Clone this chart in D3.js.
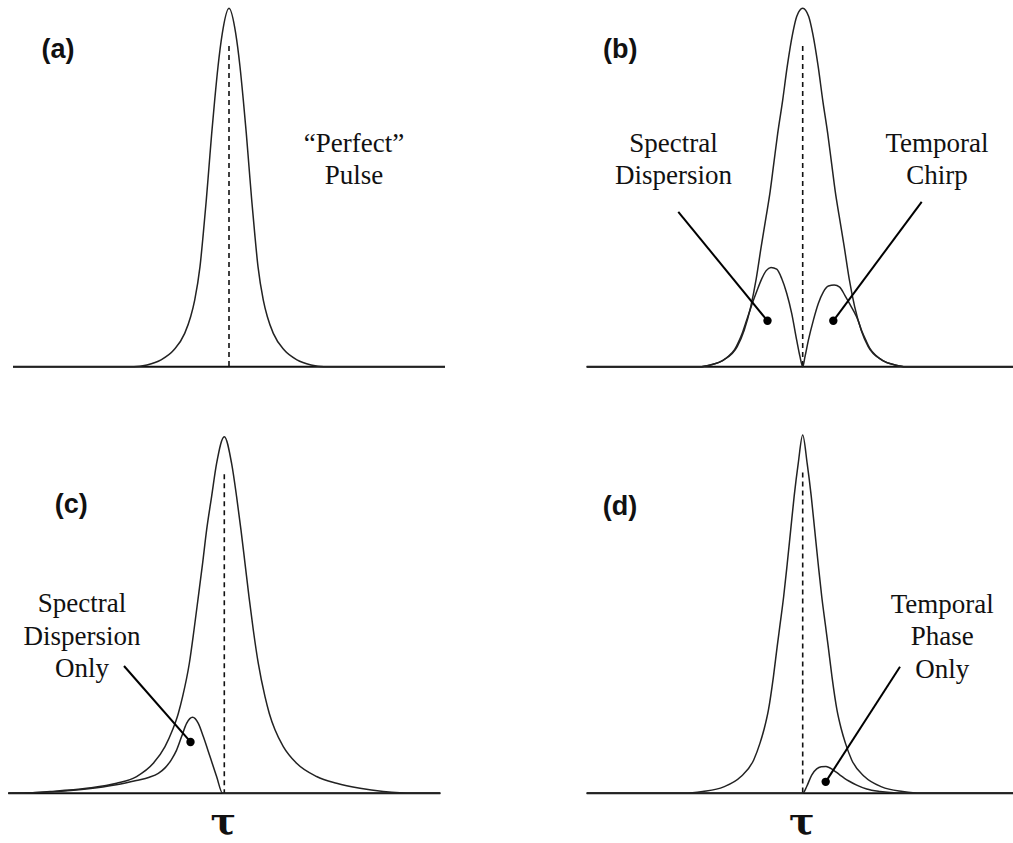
<!DOCTYPE html>
<html>
<head>
<meta charset="utf-8">
<script src="https://cdn.jsdelivr.net/npm/d3@7"></script>
<style>
  body { margin: 0; background: #fff; }
  svg { display: block; }
  .note { font-family: "Liberation Serif", "Times New Roman", serif; font-size: 27px; fill: #111; }
  .plabel { font-family: "Liberation Sans", Arial, sans-serif; font-size: 27px; font-weight: bold; fill: #111; }
  .tau { font-family: "DejaVu Serif", serif; font-size: 38px; font-weight: bold; fill: #111; }
</style>
</head>
<body>
<div id="chart"></div>
<script>
// delay offsets (arb. units) and normalised intensities

// (a) perfect pulse
const pulseA_t = [-216, -95, -82, -68, -55, -44.3, -38.3, -34.3, -29, -25.7, -22.7, -20, -17.3, -14.3, -11, -6.7, 0,
                  6.7, 11, 14.3, 17.3, 20, 22.7, 25.7, 29, 34.3, 38.3, 44.3, 55, 68, 82, 95, 216];
const pulseA_I = [0, 0, 0.005, 0.019, 0.047, 0.093, 0.14, 0.186, 0.279, 0.372, 0.465, 0.558, 0.651, 0.744, 0.837, 0.93, 1,
                  0.93, 0.837, 0.744, 0.651, 0.558, 0.465, 0.372, 0.279, 0.186, 0.14, 0.093, 0.047, 0.019, 0.005, 0, 0];

// (b) spectral dispersion + temporal chirp
const pulseB_t = [-216, -103, -92.5, -79, -65.5, -58.5, -52, -46.5, -41.5, -36.5, -32.5, -29, -25, -20, -15.5, -10, -6, 0,
                  6, 10, 15.5, 20, 25, 29, 32.5, 36.5, 41.5, 46.5, 52, 58.5, 65.5, 79, 92.5, 103, 216];
const pulseB_I = [0, 0, 0.005, 0.019, 0.056, 0.102, 0.167, 0.245, 0.335, 0.42, 0.49, 0.565, 0.651, 0.744, 0.837, 0.93, 0.977, 1,
                  0.977, 0.93, 0.837, 0.744, 0.651, 0.565, 0.49, 0.42, 0.335, 0.245, 0.167, 0.102, 0.056, 0.019, 0.005, 0, 0];
const lobeB_t = [-216, -103, -92, -80, -74, -68, -64, -60, -56, -53, -50, -46, -41, -36.5, -31.7, -26, -21, -16, -11, -6, -2.7, 0,
                 2.3, 5.7, 10.7, 15.7, 20.7, 25.7, 31.5, 37, 42, 47, 51, 55, 59, 63, 67, 73, 80, 92, 103, 216];
const lobeB_I = [0, 0, 0.005, 0.017, 0.03, 0.048, 0.07, 0.097, 0.13, 0.155, 0.18, 0.21, 0.245, 0.268, 0.277, 0.272, 0.246, 0.205, 0.149, 0.074, 0.028, 0,
                 0.028, 0.074, 0.13, 0.177, 0.209, 0.225, 0.228, 0.222, 0.2, 0.175, 0.155, 0.132, 0.1, 0.075, 0.052, 0.032, 0.017, 0.005, 0, 0];

// (c) spectral dispersion only
const pulseC_t = [-216, -205, -174.3, -137.7, -107.7, -87.7, -71, -59.3, -51.7, -46, -41.7, -35, -30.3, -26, -21.7, -17.7, -12.7, -7.7, 0,
                  7.3, 12.3, 16.7, 20.7, 24.7, 29, 34, 40.7, 45, 50.7, 59, 72.3, 92.3, 112.3, 135.7, 159, 190, 216];
const pulseC_I = [0, 0, 0.005, 0.014, 0.028, 0.047, 0.084, 0.131, 0.178, 0.224, 0.271, 0.364, 0.458, 0.551, 0.645, 0.738, 0.832, 0.925, 1,
                  0.925, 0.832, 0.738, 0.645, 0.551, 0.458, 0.364, 0.271, 0.224, 0.178, 0.131, 0.084, 0.047, 0.028, 0.014, 0.005, 0, 0];
const lobeC_t = [-216, -174, -138, -108, -88, -75, -66, -59, -53, -47.7, -42.7, -37.7, -31.7, -26, -21, -14.3, -7.7, -1.7, 216];
const lobeC_I = [0, 0.004, 0.012, 0.024, 0.036, 0.045, 0.056, 0.072, 0.094, 0.121, 0.159, 0.196, 0.213, 0.196, 0.159, 0.103, 0.047, 0, 0];

// (d) temporal phase only
const pulseD_t = [-216, -118, -100, -79, -62, -49, -42.7, -38.5, -34.3, -29.3, -25.5, -22.7, -19, -15.5, -12, -8.5, -4.5, 0,
                  4.5, 8.5, 12, 15.5, 19, 22.7, 25.5, 29.3, 34.3, 38.5, 42.7, 49, 62, 79, 100, 118, 216];
const pulseD_I = [0, 0, 0.005, 0.018, 0.046, 0.093, 0.14, 0.18, 0.232, 0.325, 0.41, 0.47, 0.55, 0.64, 0.735, 0.83, 0.92, 1,
                  0.92, 0.83, 0.735, 0.64, 0.55, 0.47, 0.41, 0.325, 0.232, 0.18, 0.14, 0.093, 0.046, 0.018, 0.005, 0, 0];
const lobeD_t = [-216, 0, 4, 9, 14, 18.5, 23.3, 30.7, 37.3, 45.7, 54, 64, 77.3, 94, 110, 216];
const lobeD_I = [0, 0, 0.019, 0.051, 0.068, 0.074, 0.075, 0.065, 0.051, 0.035, 0.023, 0.012, 0.005, 0.001, 0, 0];

const panelLabels = ["(a)", "(b)", "(c)", "(d)"];

// annotation text lines and where the pointers sit, in (delay, intensity) units
const notesA = [{lines: ["\u201CPerfect\u201D", "Pulse"], t: 125, I: 0.6}];
const notesB = [{lines: ["Spectral", "Dispersion"], t: -129.2, I: 0.6},
                {lines: ["Temporal", "Chirp"], t: 134.3, I: 0.6}];
const notesC = [{lines: ["Spectral", "Dispersion", "Only"], t: -142.3, I: 0.508}];
const notesD = [{lines: ["Temporal", "Phase", "Only"], t: 139.6, I: 0.504}];

const pointersB = [{t0: -124.4, I0: 0.432, t1: -35.2, I1: 0.128},
                   {t0: 119, I0: 0.46, t1: 30.6, I1: 0.128}];
const pointersC = [{t0: -100.3, I0: 0.357, t1: -33.8, I1: 0.144}];
const pointersD = [{t0: 97.3, I0: 0.353, t1: 23, I1: 0.032}];

const tauDomain = [-216, 216];

// ---------------------------------------------------------------

const width = 1013, height = 843;
const svg = d3.select("#chart").append("svg")
    .attr("width", width)
    .attr("height", height);

function zip(ts, is) {
    return ts.map((t, i) => ({t: t, I: is[i]}));
}

const panels = [
    {label: panelLabels[0], cx: 229, base: 366.7, top: 8.3, labelAt: [-187.5, 0.86],
     curves: [zip(pulseA_t, pulseA_I)], notes: notesA, pointers: [], tau: false},
    {label: panelLabels[1], cx: 802.7, base: 366.7, top: 8.3, labelAt: [-199.6, 0.861],
     curves: [zip(pulseB_t, pulseB_I), zip(lobeB_t, lobeB_I)], notes: notesB, pointers: pointersB, tau: false},
    {label: panelLabels[2], cx: 224.3, base: 793.3, top: 436.7, labelAt: [-169.5, 0.786],
     curves: [zip(pulseC_t, pulseC_I), zip(lobeC_t, lobeC_I)], notes: notesC, pointers: pointersC, tau: true},
    {label: panelLabels[3], cx: 802.7, base: 793.3, top: 435, labelAt: [-199.9, 0.777],
     curves: [zip(pulseD_t, pulseD_I), zip(lobeD_t, lobeD_I)], notes: notesD, pointers: pointersD, tau: true}
];

const lineHeight = 32.5;

panels.forEach(p => {
    const x = d3.scaleLinear().domain(tauDomain).range([p.cx - 216, p.cx + 216]);
    const y = d3.scaleLinear().domain([0, 1]).range([p.base, p.top]);
    const g = svg.append("g");

    // baseline
    g.append("line")
        .attr("x1", x(tauDomain[0])).attr("x2", x(tauDomain[1]))
        .attr("y1", y(0)).attr("y2", y(0))
        .attr("stroke", "#111")
        .attr("stroke-width", 2);

    // dashed centre marker
    g.append("line")
        .attr("x1", x(0)).attr("x2", x(0))
        .attr("y1", y(0.895)).attr("y2", y(0))
        .attr("stroke", "#111")
        .attr("stroke-width", 1.6)
        .attr("stroke-dasharray", "5,4");

    const line = d3.line()
        .x(d => x(d.t))
        .y(d => y(d.I))
        .curve(d3.curveMonotoneX);

    g.selectAll("path.pulse")
        .data(p.curves)
        .join("path")
        .attr("class", "pulse")
        .attr("d", line)
        .attr("fill", "none")
        .attr("stroke", "#222")
        .attr("stroke-width", 1.5);

    // pointer lines with dots
    g.selectAll("line.pointer")
        .data(p.pointers)
        .join("line")
        .attr("class", "pointer")
        .attr("x1", d => x(d.t0)).attr("y1", d => y(d.I0))
        .attr("x2", d => x(d.t1)).attr("y2", d => y(d.I1))
        .attr("stroke", "#000")
        .attr("stroke-width", 2);

    g.selectAll("circle.dot")
        .data(p.pointers)
        .join("circle")
        .attr("class", "dot")
        .attr("cx", d => x(d.t1)).attr("cy", d => y(d.I1))
        .attr("r", 4.2)
        .attr("fill", "#000");

    // annotation text
    p.notes.forEach(n => {
        const txt = g.append("text")
            .attr("class", "note")
            .attr("text-anchor", "middle")
            .attr("x", x(n.t))
            .attr("y", y(n.I));
        n.lines.forEach((l, i) => {
            txt.append("tspan")
                .attr("x", x(n.t))
                .attr("dy", i === 0 ? 0 : lineHeight)
                .text(l);
        });
    });

    g.append("text")
        .attr("class", "plabel")
        .attr("x", x(p.labelAt[0]))
        .attr("y", y(p.labelAt[1]))
        .text(p.label);

    if (p.tau) {
        g.append("text")
            .attr("class", "tau")
            .attr("text-anchor", "middle")
            .attr("x", x(-1))
            .attr("y", y(0) + 41)
            .text("\u03C4");
    }
});
</script>
</body>
</html>
